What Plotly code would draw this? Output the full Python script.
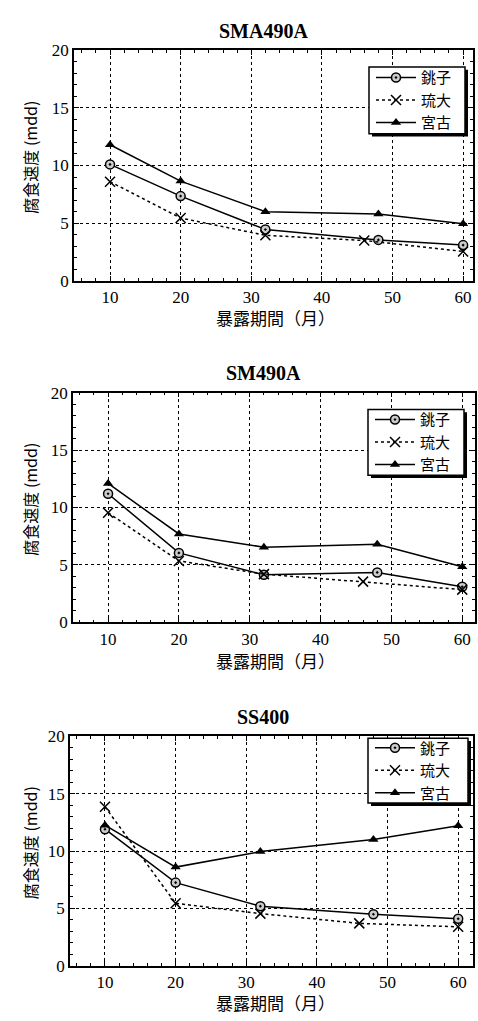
import plotly.graph_objects as go

titles = ["SMA490A", "SM490A", "SS400"]
series_names = ["銚子", "琉大", "宮古"]

# months per series (琉大 has a different 4th point)
x_choshi = [10, 20, 32, 48, 60]
x_ryudai = [10, 20, 32, 46, 60]
x_miyako = [10, 20, 32, 48, 60]

# SMA490A
sma_choshi = [10.1, 7.35, 4.45, 3.55, 3.1]
sma_ryudai = [8.6, 5.45, 3.95, 3.5, 2.55]
sma_miyako = [11.8, 8.65, 6.0, 5.8, 4.95]
# SM490A
sm_choshi = [11.2, 6.05, 4.15, 4.35, 3.1]
sm_ryudai = [9.55, 5.35, 4.2, 3.55, 2.85]
sm_miyako = [12.1, 7.7, 6.55, 6.8, 4.85]
# SS400
ss_choshi = [11.9, 7.25, 5.2, 4.5, 4.1]
ss_ryudai = [13.85, 5.45, 4.55, 3.7, 3.4]
ss_miyako = [12.25, 8.6, 9.95, 11.0, 12.2]

data = [
    (sma_choshi, sma_ryudai, sma_miyako),
    (sm_choshi, sm_ryudai, sm_miyako),
    (ss_choshi, ss_ryudai, ss_miyako),
]

W, H = 478, 1021
# plot-area pixel boxes (left, right, top, bottom)
boxes = [(74, 473, 42, 277), (73, 475, 391, 625), (70, 473, 741, 975)]
xranges = [[4.9, 61.4], [5.05, 61.8], [5.05, 62.1]]
# legend frame pixel boxes (left, top, right, bottom)
legend_frames = [(369, 59, 465, 127), (368, 408, 464, 475), (368, 743, 468, 809)]
xlabel_offsets = [37, 39, 37]
shadow = 3

serif = "Liberation Serif"
cjk = "Noto Sans CJK JP"


def px(x):
    return x / W


def py(y):
    return 1 - y / H


fig = go.Figure()
layout = dict(
    width=W, height=H, margin=dict(l=0, r=0, t=0, b=0),
    paper_bgcolor="white", plot_bgcolor="white", showlegend=True,
)
annotations = []
shapes = []

for i in range(3):
    xa = "x" if i == 0 else f"x{i+1}"
    ya = "y" if i == 0 else f"y{i+1}"
    lg = "legend" if i == 0 else f"legend{i+1}"
    ch, ry, mi = data[i]
    fig.add_trace(go.Scatter(
        x=x_choshi, y=ch, name=series_names[0], xaxis=xa, yaxis=ya, legend=lg,
        mode="lines+markers", line=dict(color="black", width=1.5),
        marker=dict(symbol="circle-dot", size=9, color="#cccccc",
                    line=dict(color="black", width=1.5))))
    fig.add_trace(go.Scatter(
        x=x_ryudai, y=ry, name=series_names[1], xaxis=xa, yaxis=ya, legend=lg,
        mode="lines+markers", line=dict(color="black", width=1.5, dash="dot"),
        marker=dict(symbol="x-thin", size=10, color="black",
                    line=dict(color="black", width=1.5))))
    fig.add_trace(go.Scatter(
        x=x_miyako, y=mi, name=series_names[2], xaxis=xa, yaxis=ya, legend=lg,
        mode="lines+markers", line=dict(color="black", width=1.5),
        marker=dict(symbol="triangle-up", size=9, color="black")))

    l, r, t, b = boxes[i]
    xkey = "xaxis" if i == 0 else f"xaxis{i+1}"
    ykey = "yaxis" if i == 0 else f"yaxis{i+1}"
    layout[xkey] = dict(
        domain=[px(l), px(r)], range=xranges[i], anchor=ya,
        tickmode="array", tickvals=[10, 20, 30, 40, 50, 60],
        ticks="inside", ticklen=5, tickcolor="black",
        minor=dict(ticks="inside", dtick=2, tick0=0, ticklen=3, tickcolor="black", showgrid=False),
        showline=True, linecolor="black", linewidth=1.5, mirror="ticks",
        showgrid=True, gridcolor="black", griddash="dot", gridwidth=1,
        tickfont=dict(family=serif, size=17, color="black"), zeroline=False,
    )
    layout[ykey] = dict(
        domain=[py(b), py(t)], range=[0, 20], anchor=xa,
        tickmode="array", tickvals=[0, 5, 10, 15, 20],
        ticks="inside", ticklen=5, tickcolor="black",
        minor=dict(ticks="inside", dtick=1, ticklen=3, tickcolor="black", showgrid=False),
        showline=True, linecolor="black", linewidth=1.5, mirror="ticks",
        showgrid=True, gridcolor="black", griddash="dot", gridwidth=1,
        tickfont=dict(family=serif, size=17, color="black"), zeroline=False,
    )

    # legend frame with drop shadow (drawn as shapes), legend items on top
    fl, ft, fr, fb = legend_frames[i]
    shapes.append(dict(type="rect", xref="paper", yref="paper", layer="above",
                       x0=px(fl + shadow), x1=px(fr + shadow), y0=py(fb + shadow), y1=py(ft + shadow),
                       fillcolor="black", line=dict(width=0)))
    shapes.append(dict(type="rect", xref="paper", yref="paper", layer="above",
                       x0=px(fl), x1=px(fr), y0=py(fb), y1=py(ft),
                       fillcolor="white", line=dict(color="black", width=1.5)))
    layout[lg] = dict(
        x=px(fl + 2), y=py((ft + fb) / 2), xanchor="left", yanchor="middle",
        bgcolor="rgba(0,0,0,0)", borderwidth=0,
        font=dict(family=cjk, size=15, color="black"),
        tracegroupgap=0, itemwidth=40,
    )
    # title
    annotations.append(dict(
        text=f"<b>{titles[i]}</b>", x=px(263), y=py(t - 20), xref="paper", yref="paper",
        showarrow=False, font=dict(family=serif, size=20, color="black"),
        xanchor="center", yanchor="middle"))
    # x-axis label
    annotations.append(dict(
        text="暴露期間（月）", x=px(275), y=py(b + xlabel_offsets[i]), xref="paper", yref="paper",
        showarrow=False, font=dict(family=cjk, size=17, color="black"),
        xanchor="center", yanchor="middle"))
    # y-axis label
    annotations.append(dict(
        text="腐食速度 (mdd)", x=px(30), y=py((t + b) / 2 - 8), xref="paper", yref="paper",
        showarrow=False, textangle=-90, font=dict(family=cjk, size=16, color="black"),
        xanchor="center", yanchor="middle"))

layout["annotations"] = annotations
layout["shapes"] = shapes
fig.update_layout(**layout)
fig.write_html(
    "out.html",
    config={"displayModeBar": False},
    post_script="document.body.style.margin='0';document.body.style.padding='0';"
                "document.documentElement.style.overflow='hidden';",
)
